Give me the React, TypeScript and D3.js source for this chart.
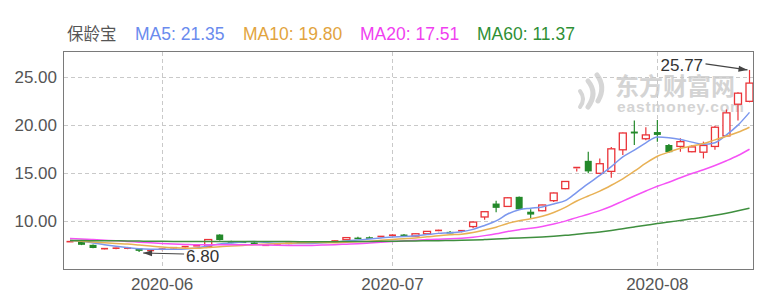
import React from "react";
import * as d3 from "d3";

const stockName = "保龄宝";

const dates = [
  "2020-05-20","2020-05-21","2020-05-22","2020-05-25","2020-05-26","2020-05-27","2020-05-28","2020-05-29",
  "2020-06-01","2020-06-02","2020-06-03","2020-06-04","2020-06-05","2020-06-08","2020-06-09","2020-06-10",
  "2020-06-11","2020-06-12","2020-06-15","2020-06-16","2020-06-17","2020-06-18","2020-06-19","2020-06-22",
  "2020-06-23","2020-06-24","2020-06-29","2020-06-30",
  "2020-07-01","2020-07-02","2020-07-03","2020-07-06","2020-07-07","2020-07-08","2020-07-09","2020-07-10",
  "2020-07-13","2020-07-14","2020-07-15","2020-07-16","2020-07-17","2020-07-20","2020-07-21","2020-07-22",
  "2020-07-23","2020-07-24","2020-07-27","2020-07-28","2020-07-29","2020-07-30","2020-07-31",
  "2020-08-03","2020-08-04","2020-08-05","2020-08-06","2020-08-07","2020-08-10","2020-08-11","2020-08-12","2020-08-13",
];

const opens = [
  7.80, 7.95, 7.55, 7.12, 7.16, 7.20, 7.18, 6.92, 7.05, 7.22,
  7.32, 7.40, 7.40, 8.62, 7.95, 7.90, 7.80, 7.42, 7.62, 7.68,
  7.78, 7.82, 7.90, 7.92, 8.08, 8.30, 8.34, 8.30, 8.38, 8.62,
  8.46, 8.70, 8.90, 8.90, 8.90, 9.45, 10.45, 11.85, 11.55, 12.55,
  11.00, 11.10, 12.15, 13.40, 15.50, 16.30, 15.00, 15.20, 17.45, 19.35,
  18.60, 19.30, 17.95, 17.80, 17.25, 17.20, 17.80, 18.90, 22.20, 22.50,
];
const highs = [
  7.93, 7.98, 7.58, 7.18, 7.24, 7.30, 7.20, 7.00, 7.14, 7.30,
  7.40, 7.50, 8.15, 8.65, 7.98, 7.95, 7.85, 7.53, 7.70, 7.75,
  7.84, 7.90, 7.93, 8.00, 8.36, 8.40, 8.42, 8.48, 8.62, 8.68,
  8.75, 9.00, 9.12, 9.00, 9.08, 9.98, 11.05, 12.15, 12.52, 12.58,
  11.25, 11.72, 13.00, 14.20, 15.62, 17.25, 16.55, 17.75, 19.25, 20.50,
  19.80, 20.55, 18.05, 18.65, 17.95, 18.30, 19.95, 21.65, 23.45, 25.77,
];
const lows = [
  7.76, 7.52, 7.18, 7.08, 7.13, 7.12, 6.80, 6.88, 7.02, 7.18,
  7.30, 7.36, 7.38, 8.00, 7.72, 7.80, 7.72, 7.40, 7.58, 7.64,
  7.74, 7.80, 7.84, 7.90, 8.05, 8.20, 8.25, 8.28, 8.35, 8.42,
  8.44, 8.66, 8.86, 8.75, 8.85, 9.28, 10.15, 10.95, 11.50, 11.20,
  10.30, 11.05, 12.00, 13.35, 15.20, 15.00, 14.95, 14.55, 16.90, 17.95,
  18.45, 18.30, 17.15, 17.25, 17.20, 16.55, 17.45, 18.80, 20.50, 22.40,
];
const closes = [
  7.88, 7.55, 7.22, 7.15, 7.20, 7.20, 6.92, 6.96, 7.10, 7.25,
  7.36, 7.45, 8.10, 8.05, 7.75, 7.85, 7.77, 7.50, 7.64, 7.70,
  7.80, 7.85, 7.88, 7.95, 8.30, 8.28, 8.32, 8.42, 8.55, 8.46,
  8.70, 8.95, 9.05, 8.85, 9.02, 9.92, 11.00, 11.40, 12.45, 11.25,
  10.70, 11.70, 12.95, 14.15, 15.60, 15.20, 16.00, 17.55, 19.20, 19.15,
  19.00, 19.00, 17.20, 18.30, 17.75, 17.90, 19.80, 21.30, 23.35, 24.40,
];
// closes before the visible window (only used for the moving averages)
const earlierCloses = [
  7.60, 7.70, 7.75, 7.70, 7.80, 7.85, 7.90, 7.80, 7.75, 7.70,
  7.80, 7.90, 7.95, 7.85, 7.80, 7.75, 7.80, 7.90, 7.95, 8.00,
  7.90, 7.85, 7.80, 7.75, 7.80, 7.85, 7.90, 7.85, 7.80, 7.90,
  7.95, 8.00, 8.05, 8.10, 8.00, 8.10, 8.15, 8.20, 8.15, 8.20,
  8.30, 8.40, 8.50, 8.55, 8.45, 8.50, 8.40, 8.35, 8.30, 8.25,
  8.20, 8.10, 8.00, 7.90, 7.80, 7.95, 8.05, 8.10, 8.00,
];

const maPeriods = [5, 10, 20, 60];
const maLineColors = ["#7b97ee", "#e8b155", "#f552f5", "#3f8f3f"];
const maTextColors = ["#6a8bee", "#e2a43e", "#f03ff0", "#2f8f35"];
const maLegendX = [135, 243, 360, 477];

const yTicks = [10, 15, 20, 25];
const monthTicks = ["2020-06", "2020-07", "2020-08"];

const RED = "#ea3338";
const GREEN = "#23892a";
const FONT = "'Liberation Sans', Arial, sans-serif";
const CJK = "'Noto Sans CJK SC', sans-serif";

function arrowHead(x1: number, y1: number, x2: number, y2: number, len = 9, w = 3) {
  const dx = x2 - x1, dy = y2 - y1;
  const d = Math.hypot(dx, dy);
  const ux = dx / d, uy = dy / d;
  const bx = x2 - ux * len, by = y2 - uy * len;
  return `${x2},${y2} ${bx - uy * w},${by + ux * w} ${bx + uy * w},${by - ux * w}`;
}

export default function App() {
  const W = 760, H = 300;
  const left = 64, right = 753, top = 52, bottom = 269;
  const x = d3.scalePoint<string>().domain(dates).range([70, 749.5]);
  const y = d3.scaleLinear().domain([5.03, 27.64]).range([bottom, top]);
  const bodyW = 7;

  const all = earlierCloses.concat(closes);
  const off = earlierCloses.length;
  const mas = maPeriods.map((n) =>
    closes.map((_, i) => d3.mean(all.slice(off + i - n + 1, off + i + 1)) as number)
  );

  const line = d3
    .line<number>()
    .x((_, i) => x(dates[i]) as number)
    .y((v) => y(v))
    .curve(d3.curveMonotoneX);

  const monthX = monthTicks.map((m) => x(dates.find((d) => d.startsWith(m)) as string) as number);

  const iMax = d3.maxIndex(highs);
  const iMin = d3.minIndex(lows);
  const maxX = x(dates[iMax]) as number;
  const maxY = y(highs[iMax]);
  const minX = x(dates[iMin]) as number;
  const minY = y(lows[iMin]);

  const fmt = (v: number) => (Math.round(v * 100) / 100).toFixed(2);

  return (
    <svg width={W} height={H} style={{ position: "absolute", left: 0, top: 0, background: "#fff" }}>
      {/* legend */}
      <text x={67} y={40} fontFamily={CJK} fontSize={16.5} fill="#555">{stockName}</text>
      {maPeriods.map((n, k) => (
        <text key={n} x={maLegendX[k]} y={40} fontFamily={FONT} fontSize={17.5} fill={maTextColors[k]}>
          {`MA${n}: ${fmt(mas[k][mas[k].length - 1])}`}
        </text>
      ))}

      {/* watermark */}
      <g fill="none" stroke="#d6d6d6" strokeLinecap="round">
        <path d="M 597 75 Q 606 87 598 101" strokeWidth={5} />
        <path d="M 588 81 Q 598 93 588 107" strokeWidth={5} />
        <path d="M 580 91 Q 586 99 580 107" strokeWidth={4} />
      </g>
      <text x={615} y={95} fontFamily={CJK} fontWeight="bold" fontSize={24} fill="#d4d4d4">东方财富网</text>
      <text x={617} y={112} fontFamily={FONT} fontWeight="bold" fontSize={15.5} fill="#d4d4d4" letterSpacing={0.9}>eastmoney.com</text>

      {/* grid */}
      <g stroke="#c9c9c9" strokeWidth={1} strokeDasharray="4,3">
        {yTicks.map((t) => (
          <line key={t} x1={left} x2={right} y1={Math.round(y(t)) + 0.5} y2={Math.round(y(t)) + 0.5} />
        ))}
        {monthX.map((mx, k) => (
          <line key={k} x1={Math.round(mx) + 0.5} x2={Math.round(mx) + 0.5} y1={top} y2={bottom} />
        ))}
      </g>

      {/* axis labels */}
      {yTicks.map((t) => (
        <text key={t} x={57} y={y(t) + 6} textAnchor="end" fontFamily={FONT} fontSize={17} fill="#555">
          {t.toFixed(2)}
        </text>
      ))}
      {monthTicks.map((m, k) => (
        <text key={m} x={monthX[k]} y={290} textAnchor="middle" fontFamily={FONT} fontSize={17} fill="#555">
          {m}
        </text>
      ))}

      {/* candles */}
      {dates.map((d, i) => {
        const cx = x(d) as number;
        const up = closes[i] >= opens[i];
        const col = up ? RED : GREEN;
        const yT = y(Math.max(opens[i], closes[i]));
        const yB = y(Math.min(opens[i], closes[i]));
        const h = Math.max(1, yB - yT);
        return (
          <g key={d}>
            {up ? (
              <>
                <line x1={cx} x2={cx} y1={y(highs[i])} y2={yT} stroke={col} strokeWidth={1.2} />
                <line x1={cx} x2={cx} y1={yT + h} y2={y(lows[i])} stroke={col} strokeWidth={1.2} />
                {h > 2 ? (
                  <rect x={cx - bodyW / 2} y={yT} width={bodyW} height={h} fill="#fff" stroke={col} strokeWidth={1.3} />
                ) : (
                  <rect x={cx - bodyW / 2} y={yT - 0.8} width={bodyW} height={Math.max(1.6, h)} fill={col} />
                )}
              </>
            ) : (
              <>
                <line x1={cx} x2={cx} y1={y(highs[i])} y2={y(lows[i])} stroke={col} strokeWidth={1.2} />
                <rect x={cx - bodyW / 2} y={yT} width={bodyW} height={Math.max(1.6, h)} fill={col} />
              </>
            )}
          </g>
        );
      })}

      {/* moving averages */}
      {mas.map((vals, k) => (
        <path key={k} d={line(vals) as string} fill="none" stroke={maLineColors[k]} strokeWidth={1.5} />
      ))}

      {/* max / min annotations */}
      <g stroke="#444" fill="#444">
        <line x1={maxX - 44} y1={maxY - 6} x2={maxX - 2} y2={maxY} strokeWidth={1.2} />
        <polygon points={arrowHead(maxX - 44, maxY - 6, maxX - 2, maxY)} stroke="none" />
        <line x1={minX + 45} y1={minY + 2} x2={minX + 4} y2={minY + 1} strokeWidth={1.2} />
        <polygon points={arrowHead(minX + 45, minY + 2, minX + 4, minY + 1)} stroke="none" />
      </g>
      <text x={maxX - 89} y={maxY + 1} fontFamily={FONT} fontSize={17} fill="#333">{highs[iMax].toFixed(2)}</text>
      <text x={minX + 47} y={minY + 10} fontFamily={FONT} fontSize={17} fill="#333">{lows[iMin].toFixed(2)}</text>

      {/* frame */}
      <rect x={left - 0.5} y={top - 0.5} width={right - left + 1} height={bottom - top + 1} fill="none" stroke="#7a7a7a" strokeWidth={1} />
    </svg>
  );
}
